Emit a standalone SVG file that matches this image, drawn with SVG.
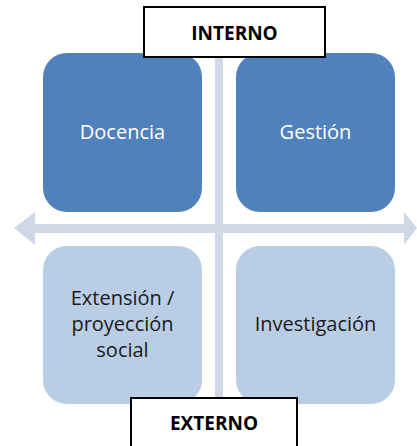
<svg xmlns="http://www.w3.org/2000/svg" width="417" height="446" viewBox="0 0 417 446">
<style>
.top{fill:#4F81BD}
.bot{fill:#B9CDE5}
.lbl{font-family:"Open Sans","Liberation Sans",sans-serif;font-size:20px;text-anchor:middle}
.w{fill:#FFFFFF}
.d{fill:#1a1a1a}
.tag{fill:#FFFFFF;stroke:#000000;stroke-width:2}
.tagt{font-family:"Open Sans","Liberation Sans",sans-serif;font-size:19px;font-weight:bold;text-anchor:middle;fill:#000000}
.ax{fill:#D0D8E8}
</style>
<g id="connectors">
<rect class="ax" x="215" y="40" width="8" height="380"/>
<polygon class="ax" points="14,228 35,212 35,224 404,224 404,212 417,228 404,245 404,233 35,233 35,245"/>
</g>
<g id="docencia">
<rect class="top" x="43" y="53" width="159" height="159" rx="24"/>
<text class="lbl w" x="122.5" y="139">Docencia</text>
</g>
<g id="gestion">
<rect class="top" x="236" y="53" width="159" height="159" rx="24"/>
<text class="lbl w" x="315.5" y="139">Gestión</text>
</g>
<g id="extension">
<rect class="bot" x="43" y="246" width="159" height="158" rx="24"/>
<text class="lbl d" x="122.5" y="305">Extensión /</text>
<text class="lbl d" x="122.5" y="331">proyección</text>
<text class="lbl d" x="122.5" y="357">social</text>
</g>
<g id="investigacion">
<rect class="bot" x="236" y="246" width="159" height="158" rx="24"/>
<text class="lbl d" x="315.5" y="331">Investigación</text>
</g>
<g id="interno">
<rect class="tag" x="144" y="7" width="181" height="50"/>
<text class="tagt" x="234.5" y="40">INTERNO</text>
</g>
<g id="externo">
<rect class="tag" x="131" y="398" width="166" height="60"/>
<text class="tagt" x="214" y="430">EXTERNO</text>
</g>
</svg>
